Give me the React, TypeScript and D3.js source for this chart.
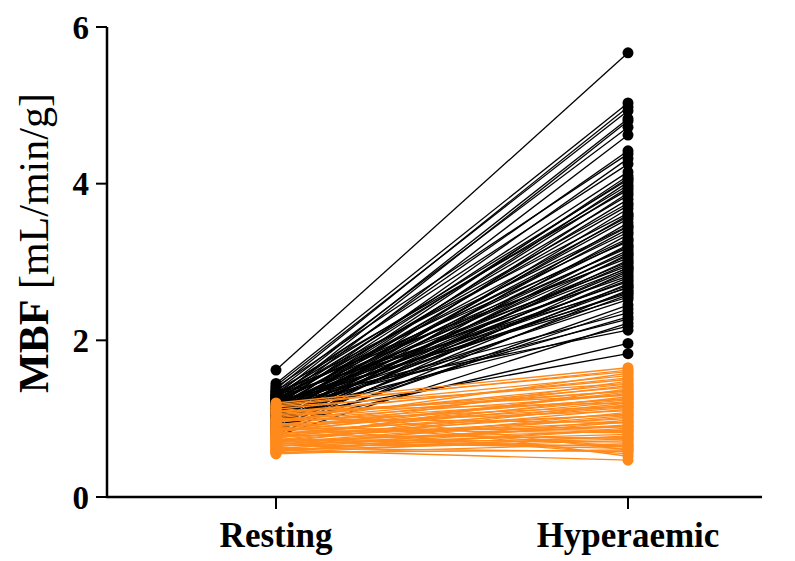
import * as d3 from "d3";

const WIDTH = 795;
const HEIGHT = 561;

const groups = ["Resting", "Hyperaemic"];
const yTicks = [0, 2, 4, 6];

// preserved flow (black)
const blackRest = [
  1.62, 1.45, 1.38, 1.42, 1.3, 1.25, 1.35, 1.2, 1.28, 1.4, 1.15, 1.33, 1.22, 1.1,
  1.18, 1.3, 1.05, 1.27, 1.12, 1.36, 0.98, 1.2, 1.08, 1.24, 1.15, 0.95, 1.31, 1.02,
  1.19, 1.1, 0.9, 1.26, 1.13, 1.04, 1.21, 0.88, 1.16, 1.07, 1.29, 0.93, 1.11, 1.23,
  1.0, 1.17, 0.85, 1.09, 1.34, 0.97, 1.14, 1.06, 1.25, 0.92, 1.18, 1.01, 0.83, 1.12,
  1.27, 0.96, 1.08, 1.2, 0.89, 1.15, 1.03, 1.3, 0.8, 1.1, 0.94, 1.22, 1.05, 0.87,
  1.16, 0.99, 1.13, 0.78, 1.07, 1.24, 0.91, 1.02, 1.19, 0.86,
];
const blackHyper = [
  5.67, 5.03, 4.98, 4.93, 4.83, 4.8, 4.72, 4.62, 4.42, 4.38, 4.32, 4.25, 4.15, 4.1,
  4.07, 4.05, 4.02, 3.98, 3.95, 3.92, 3.88, 3.85, 3.8, 3.75, 3.72, 3.68, 3.62, 3.6,
  3.58, 3.55, 3.5, 3.46, 3.45, 3.42, 3.38, 3.35, 3.3, 3.28, 3.26, 3.22, 3.2, 3.18,
  3.15, 3.12, 3.1, 3.08, 3.05, 3.02, 3.0, 2.98, 2.95, 2.93, 2.92, 2.9, 2.88, 2.85,
  2.82, 2.8, 2.77, 2.75, 2.72, 2.7, 2.68, 2.67, 2.64, 2.62, 2.58, 2.55, 2.52, 2.4,
  2.35, 2.3, 2.27, 2.22, 2.18, 2.13, 1.96, 1.83, 2.6, 2.45,
];

// reduced flow (orange)
const orangeRest = [
  1.2, 1.18, 1.15, 1.12, 1.1, 1.08, 1.05, 1.03, 1.0, 0.98, 0.96, 0.95, 0.93, 0.92,
  0.9, 0.88, 0.87, 0.85, 0.84, 0.82, 0.8, 0.79, 0.78, 0.76, 0.75, 0.74, 0.72, 0.71,
  0.7, 0.68, 0.67, 0.66, 0.65, 0.64, 0.62, 0.61, 0.6, 0.58, 0.57, 0.56, 0.55, 1.14,
  1.06, 0.99, 0.91, 0.86, 0.81, 0.77, 0.73, 0.69, 0.63, 0.59, 1.16, 1.01, 0.94,
  0.83, 0.7, 0.6, 1.09, 0.89, 0.78, 0.66, 0.97, 0.74, 0.58, 1.11, 0.85, 0.72,
];
const orangeHyper = [
  1.65, 1.6, 1.45, 1.55, 1.2, 1.5, 1.35, 1.4, 0.95, 1.3, 1.25, 1.58, 1.1, 1.42,
  1.15, 0.85, 1.32, 1.05, 1.48, 0.9, 1.22, 0.75, 1.28, 1.0, 1.38, 0.7, 1.12, 0.62,
  1.18, 0.8, 1.02, 0.66, 0.92, 1.08, 0.58, 0.98, 0.72, 0.88, 0.6, 0.78, 0.68, 0.6,
  1.52, 1.36, 1.26, 0.82, 1.14, 0.95, 1.2, 1.04, 0.74, 0.86, 1.62, 1.44, 0.65,
  1.34, 0.9, 0.47, 1.3, 0.55, 1.06, 0.76, 1.16, 0.64, 0.96, 0.52, 1.24, 0.84,
];

const black = blackRest.map((r, i) => ({ rest: r, hyper: blackHyper[i] }));
const orange = orangeRest.map((r, i) => ({ rest: r, hyper: orangeHyper[i] }));

const AXIS_LEFT = 107;
const AXIS_RIGHT = 762;

const x = d3.scalePoint<string>().domain(groups).range([276, 628]);
const y = d3.scaleLinear().domain([0, 6]).range([497, 27]);

const ORANGE = "#ff8a1c";

function Group({ data, color }: { data: { rest: number; hyper: number }[]; color: string }) {
  const link = d3
    .line<[string, number]>()
    .x((d) => x(d[0]) as number)
    .y((d) => y(d[1]));
  return (
    <g>
      {data.map((d, i) => (
        <path
          key={"l" + i}
          d={link([
            ["Resting", d.rest],
            ["Hyperaemic", d.hyper],
          ]) ?? ""}
          stroke={color}
          strokeWidth={1.3}
          fill="none"
        />
      ))}
      {data.map((d, i) => (
        <g key={"p" + i} fill={color}>
          <circle cx={x("Resting")} cy={y(d.rest)} r={5.5} />
          <circle cx={x("Hyperaemic")} cy={y(d.hyper)} r={5.5} />
        </g>
      ))}
    </g>
  );
}

export default function App() {
  const font = "'Liberation Serif', 'Times New Roman', serif";
  return (
    <svg
      width={WIDTH}
      height={HEIGHT}
      style={{ position: "absolute", left: 0, top: 0, background: "#fff" }}
      fontFamily={font}
    >
      <Group data={black} color="#000" />
      <Group data={orange} color={ORANGE} />

      {/* y axis */}
      <line x1={AXIS_LEFT} x2={AXIS_LEFT} y1={y(6)} y2={y(0)} stroke="#000" strokeWidth={2.5} />
      {yTicks.map((t) => (
        <g key={t}>
          <line x1={AXIS_LEFT - 11} x2={AXIS_LEFT} y1={y(t)} y2={y(t)} stroke="#000" strokeWidth={2} />
          <text
            x={AXIS_LEFT - 18}
            y={y(t)}
            dy="0.35em"
            textAnchor="end"
            fontSize={33}
            fontWeight="bold"
          >
            {t}
          </text>
        </g>
      ))}

      {/* x axis */}
      <line x1={AXIS_LEFT - 1} x2={AXIS_RIGHT} y1={y(0)} y2={y(0)} stroke="#000" strokeWidth={2.5} />
      {groups.map((g) => (
        <g key={g}>
          <line x1={x(g)} x2={x(g)} y1={y(0)} y2={y(0) + 12} stroke="#000" strokeWidth={2} />
          <text x={x(g)} y={547} textAnchor="middle" fontSize={35} fontWeight="bold">
            {g}
          </text>
        </g>
      ))}

      <text
        transform={`translate(48, 243) rotate(-90)`}
        textAnchor="middle"
        fontSize={42}
      >
        <tspan fontWeight="bold">MBF</tspan> [mL/min/g]
      </text>
    </svg>
  );
}
